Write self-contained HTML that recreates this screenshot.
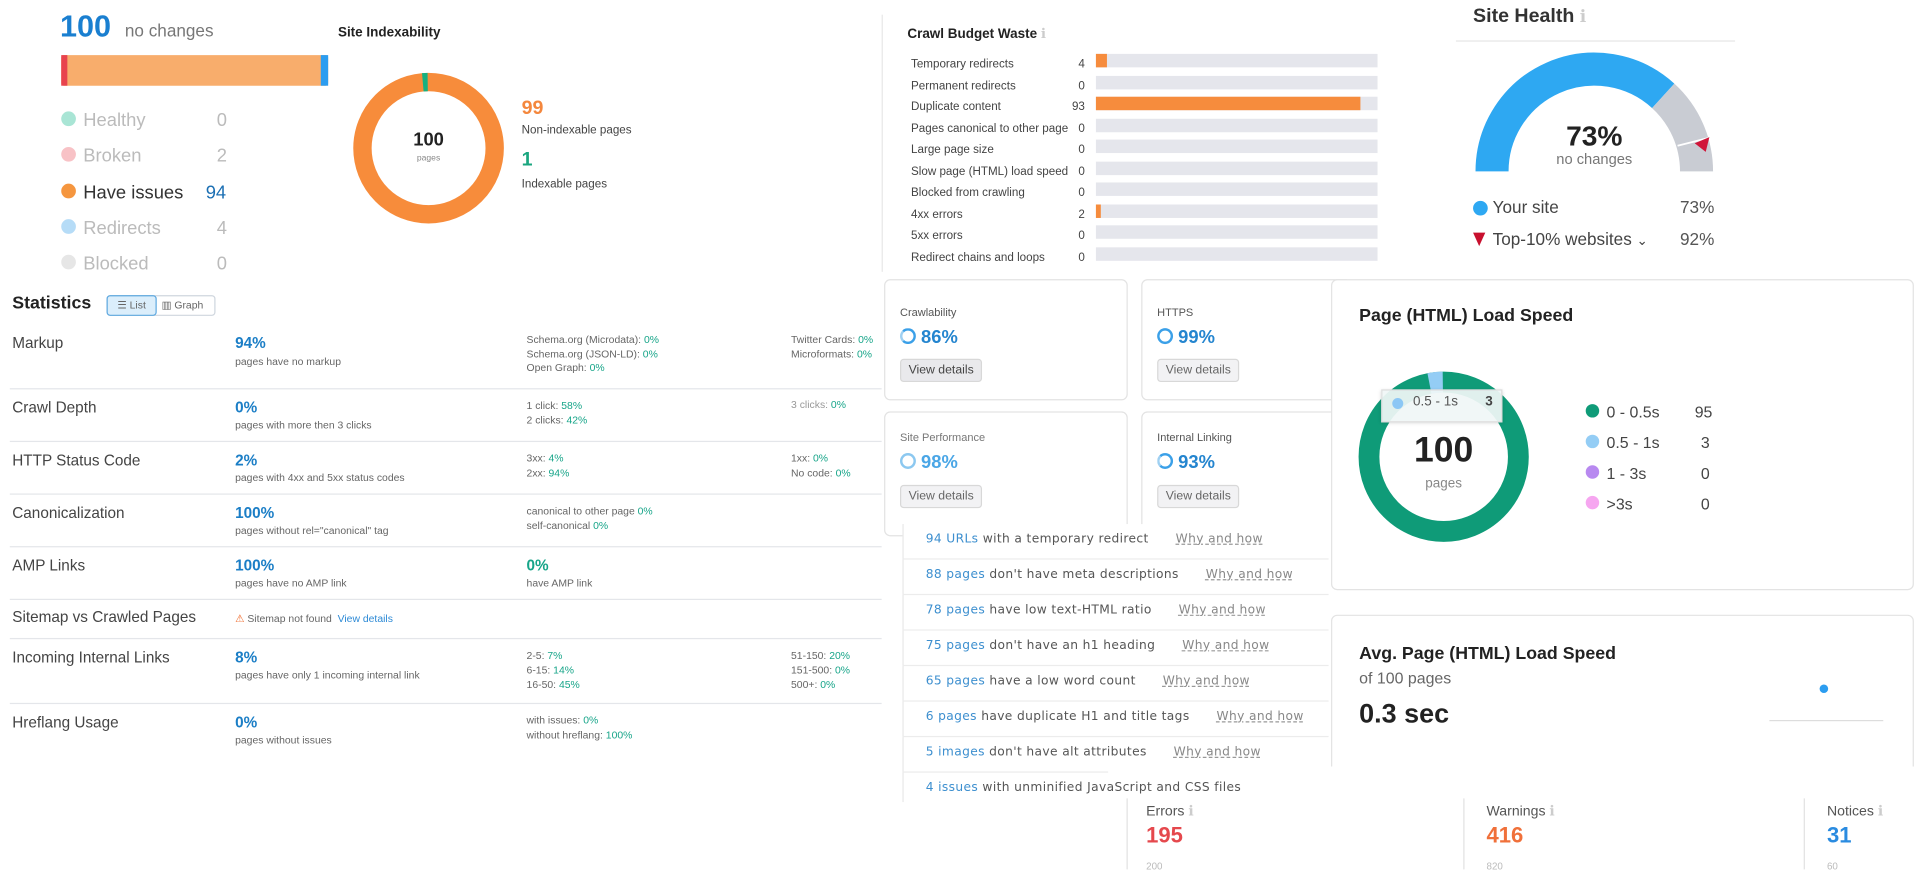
<!DOCTYPE html>
<html><head><meta charset="utf-8"><style>
html,body{margin:0;padding:0;background:#fff;width:1920px;height:869px;overflow:hidden}
#w{position:absolute;left:0;top:0;width:1568px;height:710px;transform:scale(1.22449);transform-origin:0 0;font-family:"Liberation Sans",sans-serif;color:#333}
.a{position:absolute;white-space:nowrap}
.b{color:#1a7fc9}.g{color:#17a589}
.row{position:absolute;left:8px;width:712px;border-top:1.5px solid #e4e6ea}
.lab{font-size:12.5px;color:#444}
.v{font-size:12.5px;font-weight:bold;color:#1b7ec6}
.s{font-size:8.5px;color:#666}
.card{position:absolute;border:1px solid #e3e3e3;border-radius:5px;background:#fff}
.btn{position:absolute;border:1px solid #d8d8d8;background:#f2f2f4;border-radius:3px;font-size:10px;color:#666;padding:3px 6px}
.iss{position:absolute;left:737px;width:348px;height:29px;border-bottom:1px solid #ececec;font-family:"DejaVu Sans",sans-serif;font-size:10px;letter-spacing:0.3px;color:#555;overflow:hidden;white-space:nowrap}
.iss span.n{color:#3d8fcf}
.iss u{color:#888;text-decoration:underline dashed #999;margin-left:22px}
.cb{font-size:9.5px;color:#444}
.bar{position:absolute;left:895px;width:230px;height:11px;background:#e5e6ec}
</style></head><body><div id="w">

<div class="a" style="left:49px;top:8px;font-size:25px;font-weight:bold;color:#1a7fd0">100</div>
<div class="a" style="left:102px;top:17px;font-size:14px;color:#777">no changes</div>
<div class="a" style="left:50px;top:45px;width:218px;height:25px;background:#f8ad6c;border-radius:2px"></div>
<div class="a" style="left:50px;top:45px;width:5px;height:25px;background:#e8434e"></div>
<div class="a" style="left:262px;top:45px;width:6px;height:25px;background:#2c9df0"></div>
<div class="a" style="left:50px;top:84px;font-size:15px;color:#bbb;line-height:29.3px">
<div><span style="display:inline-block;width:12px;height:12px;border-radius:50%;background:#a9e5d5;margin-right:6px"></span>Healthy<span style="position:absolute;left:127px">0</span></div>
<div><span style="display:inline-block;width:12px;height:12px;border-radius:50%;background:#f8c2c6;margin-right:6px"></span>Broken<span style="position:absolute;left:127px">2</span></div>
<div style="color:#333"><span style="display:inline-block;width:12px;height:12px;border-radius:50%;background:#f5963f;margin-right:6px"></span>Have issues<span style="position:absolute;left:118px;color:#1b6fb3">94</span></div>
<div><span style="display:inline-block;width:12px;height:12px;border-radius:50%;background:#b6dcf7;margin-right:6px"></span>Redirects<span style="position:absolute;left:127px">4</span></div>
<div><span style="display:inline-block;width:12px;height:12px;border-radius:50%;background:#e6e6e6;margin-right:6px"></span>Blocked<span style="position:absolute;left:127px">0</span></div>
</div>

<div class="a" style="left:276px;top:21px;font-size:11px;font-weight:bold;color:#222">Site Indexability</div>
<svg class="a" style="left:0;top:0" width="700" height="230">
<circle cx="350" cy="121" r="54" fill="none" stroke="#f78c3b" stroke-width="15"/>
<circle cx="350" cy="121" r="54" fill="none" stroke="#16b07f" stroke-width="15" stroke-dasharray="4 400" transform="rotate(-95 350 121)"/>
</svg>
<div class="a" style="left:320px;top:106px;width:60px;text-align:center;font-size:15px;font-weight:bold;color:#222">100</div>
<div class="a" style="left:320px;top:126px;width:60px;text-align:center;font-size:7px;color:#888">pages</div>
<div class="a" style="left:426px;top:80px;font-size:16px;font-weight:bold;color:#f4873d">99</div>
<div class="a" style="left:426px;top:101px;font-size:9.5px;color:#444">Non-indexable pages</div>
<div class="a" style="left:426px;top:122px;font-size:16px;font-weight:bold;color:#1aa67f">1</div>
<div class="a" style="left:426px;top:145px;font-size:9.5px;color:#444">Indexable pages</div>

<div class="a" style="left:720px;top:12px;width:1px;height:210px;background:#e8e8e8"></div>
<div class="a" style="left:741px;top:21px;font-size:11px;font-weight:bold;color:#222">Crawl Budget Waste <span style="color:#ccc;font-weight:normal">ℹ</span></div>
<div class="a cb" style="left:744px;top:44px;line-height:17.5px">Temporary redirects<br>Permanent redirects<br>Duplicate content<br>Pages canonical to other page<br>Large page size<br>Slow page (HTML) load speed<br>Blocked from crawling<br>4xx errors<br>5xx errors<br>Redirect chains and loops</div>
<div class="a cb" style="left:866px;width:20px;text-align:right;top:44px;line-height:17.5px">4<br>0<br>93<br>0<br>0<br>0<br>0<br>2<br>0<br>0</div>
<div class="bar" style="top:44px"><div style="width:9px;height:11px;background:#f68c3d"></div></div>
<div class="bar" style="top:62px"></div>
<div class="bar" style="top:79px"><div style="width:216px;height:11px;background:#f68c3d"></div></div>
<div class="bar" style="top:97px"></div>
<div class="bar" style="top:114px"></div>
<div class="bar" style="top:132px"></div>
<div class="bar" style="top:149px"></div>
<div class="bar" style="top:167px"><div style="width:4px;height:11px;background:#f68c3d"></div></div>
<div class="bar" style="top:184px"></div>
<div class="bar" style="top:202px"></div>

<div class="a" style="left:1203px;top:5px;font-size:16px;font-weight:bold;color:#333">Site Health <span style="color:#ccc;font-weight:normal;font-size:14px">ℹ</span></div>
<div class="a" style="left:1189px;top:33px;width:228px;height:1px;background:#e6e6e6"></div>
<svg class="a" style="left:1200px;top:40px" width="210" height="110">
<path d="M18.5,100 A83.5,83.5 0 0 1 158.3,38.3" fill="none" stroke="#2ea8f2" stroke-width="27"/>
<path d="M158.3,38.3 A83.5,83.5 0 0 1 185.5,100" fill="none" stroke="#c9ccd3" stroke-width="27"/>
<line x1="170" y1="79" x2="198" y2="72" stroke="#fff" stroke-width="1.5"/>
<polygon points="196,72 184,77 193,84" fill="#d0163a"/>
</svg>
<div class="a" style="left:1262px;top:98px;width:80px;text-align:center;font-size:23px;font-weight:bold;color:#222">73%</div>
<div class="a" style="left:1262px;top:123px;width:80px;text-align:center;font-size:12px;color:#777">no changes</div>
<div class="a" style="left:1203px;top:164px;width:12px;height:12px;border-radius:50%;background:#2ea8f2"></div>
<div class="a" style="left:1219px;top:161px;font-size:14px;color:#444">Your site</div>
<div class="a" style="left:1372px;top:161px;font-size:14px;color:#555">73%</div>
<div class="a" style="left:1203px;top:190px;width:0;height:0;border-left:5px solid transparent;border-right:5px solid transparent;border-top:11px solid #c8102e"></div>
<div class="a" style="left:1219px;top:187px;font-size:14px;color:#444">Top-10% websites <span style="font-size:11px">⌄</span></div>
<div class="a" style="left:1372px;top:187px;font-size:14px;color:#555">92%</div>

<div class="a" style="left:10px;top:240px;font-size:14.5px;font-weight:bold;color:#222">Statistics</div>
<div class="a" style="left:87px;top:241px;width:87px;height:15px;border:1px solid #cfd6de;border-radius:3px;font-size:8.5px;color:#666">
<span style="position:absolute;left:0;top:0;width:39px;height:15px;background:#dbeefb;border:1px solid #5fa9e0;border-radius:3px;margin:-1px;text-align:center;line-height:15px">☰ List</span>
<span style="position:absolute;left:44px;top:0;line-height:15px">▥ Graph</span></div>

<div class="a lab" style="left:10px;top:273px">Markup</div>
<div class="a v" style="left:192px;top:273px">94%</div>
<div class="a s" style="left:192px;top:290px">pages have no markup</div>
<div class="a s" style="left:430px;top:272px;line-height:11.5px">Schema.org (Microdata): <span class="g">0%</span><br>Schema.org (JSON-LD): <span class="g">0%</span><br>Open Graph: <span class="g">0%</span></div>
<div class="a s" style="left:646px;top:272px;line-height:11.5px">Twitter Cards: <span class="g">0%</span><br>Microformats: <span class="g">0%</span></div>

<div class="row" style="top:317px"></div>
<div class="a lab" style="left:10px;top:326px">Crawl Depth</div>
<div class="a v" style="left:192px;top:326px">0%</div>
<div class="a s" style="left:192px;top:342px">pages with more then 3 clicks</div>
<div class="a s" style="left:430px;top:325px;line-height:12px">1 click: <span class="g">58%</span><br>2 clicks: <span class="g">42%</span></div>
<div class="a s" style="left:646px;top:325px;color:#999">3 clicks: <span class="g">0%</span></div>

<div class="row" style="top:360px"></div>
<div class="a lab" style="left:10px;top:369px">HTTP Status Code</div>
<div class="a v" style="left:192px;top:369px">2%</div>
<div class="a s" style="left:192px;top:385px">pages with 4xx and 5xx status codes</div>
<div class="a s" style="left:430px;top:368px;line-height:12px">3xx: <span class="g">4%</span><br>2xx: <span class="g">94%</span></div>
<div class="a s" style="left:646px;top:368px;line-height:12px">1xx: <span class="g">0%</span><br>No code: <span class="g">0%</span></div>

<div class="row" style="top:403px"></div>
<div class="a lab" style="left:10px;top:412px">Canonicalization</div>
<div class="a v" style="left:192px;top:412px">100%</div>
<div class="a s" style="left:192px;top:428px">pages without rel="canonical" tag</div>
<div class="a s" style="left:430px;top:411px;line-height:12px">canonical to other page <span class="g">0%</span><br>self-canonical <span class="g">0%</span></div>

<div class="row" style="top:446px"></div>
<div class="a lab" style="left:10px;top:455px">AMP Links</div>
<div class="a v" style="left:192px;top:455px">100%</div>
<div class="a s" style="left:192px;top:471px">pages have no AMP link</div>
<div class="a v" style="left:430px;top:455px;color:#17a589">0%</div>
<div class="a s" style="left:430px;top:471px">have AMP link</div>

<div class="row" style="top:489px"></div>
<div class="a lab" style="left:10px;top:497px">Sitemap vs Crawled Pages</div>
<div class="a s" style="left:192px;top:500px"><span style="color:#f06a2b">⚠</span> Sitemap not found&nbsp;&nbsp;<span style="color:#2d8ad6">View details</span></div>

<div class="row" style="top:521px"></div>
<div class="a lab" style="left:10px;top:530px">Incoming Internal Links</div>
<div class="a v" style="left:192px;top:530px">8%</div>
<div class="a s" style="left:192px;top:546px">pages have only 1 incoming internal link</div>
<div class="a s" style="left:430px;top:529px;line-height:12px">2-5: <span class="g">7%</span><br>6-15: <span class="g">14%</span><br>16-50: <span class="g">45%</span></div>
<div class="a s" style="left:646px;top:529px;line-height:12px">51-150: <span class="g">20%</span><br>151-500: <span class="g">0%</span><br>500+: <span class="g">0%</span></div>

<div class="row" style="top:574px"></div>
<div class="a lab" style="left:10px;top:583px">Hreflang Usage</div>
<div class="a v" style="left:192px;top:583px">0%</div>
<div class="a s" style="left:192px;top:599px">pages without issues</div>
<div class="a s" style="left:430px;top:582px;line-height:12px">with issues: <span class="g">0%</span><br>without hreflang: <span class="g">100%</span></div>

<div class="card" style="left:722px;top:228px;width:197px;height:97px"></div>
<div class="card" style="left:932px;top:228px;width:170px;height:97px"></div>
<div class="card" style="left:722px;top:336px;width:197px;height:100px"></div>
<div class="card" style="left:932px;top:336px;width:170px;height:100px"></div>
<div class="a" style="left:735px;top:250px;font-size:9px;color:#555">Crawlability</div>
<div class="a" style="left:945px;top:250px;font-size:9px;color:#555">HTTPS</div>
<div class="a" style="left:735px;top:352px;font-size:9px;color:#777">Site Performance</div>
<div class="a" style="left:945px;top:352px;font-size:9px;color:#555">Internal Linking</div>
<div class="a" style="left:735px;top:267px;font-size:15px;font-weight:bold;color:#2485cf"><span style="display:inline-block;width:9px;height:9px;border:2.5px solid #3ba0e8;border-left-color:#9fd0f2;border-radius:50%;vertical-align:-1px"></span> 86%</div>
<div class="a" style="left:945px;top:267px;font-size:15px;font-weight:bold;color:#2485cf"><span style="display:inline-block;width:9px;height:9px;border:2.5px solid #3ba0e8;border-radius:50%;vertical-align:-1px"></span> 99%</div>
<div class="a" style="left:735px;top:369px;font-size:15px;font-weight:bold;color:#4aa6e6"><span style="display:inline-block;width:9px;height:9px;border:2.5px solid #8cc8f0;border-radius:50%;vertical-align:-1px"></span> 98%</div>
<div class="a" style="left:945px;top:369px;font-size:15px;font-weight:bold;color:#2485cf"><span style="display:inline-block;width:9px;height:9px;border:2.5px solid #3ba0e8;border-left-color:#9fd0f2;border-radius:50%;vertical-align:-1px"></span> 93%</div>
<div class="btn" style="left:735px;top:293px;color:#444;background:#e9e9ec">View details</div>
<div class="btn" style="left:945px;top:293px">View details</div>
<div class="btn" style="left:735px;top:396px">View details</div>
<div class="btn" style="left:945px;top:396px">View details</div>

<div class="a" style="left:737px;top:428px;width:350px;height:227px;background:#fff;border-left:1px solid #e8e8e8"></div>
<div class="iss" style="top:428px;line-height:25px;padding-left:19px;box-sizing:border-box"><span class="n">94 URLs</span> with a temporary redirect<u>Why and how</u></div>
<div class="iss" style="top:457px;line-height:25px;padding-left:19px;box-sizing:border-box"><span class="n">88 pages</span> don't have meta descriptions<u>Why and how</u></div>
<div class="iss" style="top:486px;line-height:25px;padding-left:19px;box-sizing:border-box"><span class="n">78 pages</span> have low text-HTML ratio<u>Why and how</u></div>
<div class="iss" style="top:515px;line-height:25px;padding-left:19px;box-sizing:border-box"><span class="n">75 pages</span> don't have an h1 heading<u>Why and how</u></div>
<div class="iss" style="top:544px;line-height:25px;padding-left:19px;box-sizing:border-box"><span class="n">65 pages</span> have a low word count<u>Why and how</u></div>
<div class="iss" style="top:573px;line-height:25px;padding-left:19px;box-sizing:border-box"><span class="n">6 pages</span> have duplicate H1 and title tags<u>Why and how</u></div>
<div class="iss" style="top:602px;line-height:25px;padding-left:19px;box-sizing:border-box"><span class="n">5 images</span> don't have alt attributes<u>Why and how</u></div>

<div class="card" style="left:1087px;top:228px;width:474px;height:252px"></div>
<div class="a" style="left:1110px;top:250px;font-size:14.5px;font-weight:bold;color:#222">Page (HTML) Load Speed</div>
<svg class="a" style="left:1100px;top:290px" width="160" height="170">
<circle cx="79" cy="83" r="61" fill="none" stroke="#0f9b78" stroke-width="17"/>
<circle cx="79" cy="83" r="61" fill="none" stroke="#94cdf5" stroke-width="17" stroke-dasharray="11 400" transform="rotate(-101 79 83)"/>
</svg>
<div class="a" style="left:1128px;top:318px;width:97px;height:25px;background:rgba(240,246,246,.93);border:1px solid #ddd;box-shadow:0 1px 3px rgba(0,0,0,.15)"></div>
<div class="a" style="left:1137px;top:325px;width:9px;height:9px;border-radius:50%;background:#8cc7f5"></div>
<div class="a" style="left:1154px;top:322px;font-size:11px;color:#555">0.5 - 1s</div>
<div class="a" style="left:1213px;top:322px;font-size:11px;font-weight:bold;color:#444">3</div>
<div class="a" style="left:1139px;top:352px;width:80px;text-align:center;font-size:29px;font-weight:bold;color:#222">100</div>
<div class="a" style="left:1139px;top:389px;width:80px;text-align:center;font-size:11px;color:#888">pages</div>
<div class="a" style="left:1295px;top:324px;font-size:13px;color:#444;line-height:25px">
<div><span style="display:inline-block;width:11px;height:11px;border-radius:50%;background:#0f9b78;margin-right:6px"></span>0 - 0.5s<span style="position:absolute;left:89px">95</span></div>
<div><span style="display:inline-block;width:11px;height:11px;border-radius:50%;background:#94cdf5;margin-right:6px"></span>0.5 - 1s<span style="position:absolute;left:94px">3</span></div>
<div><span style="display:inline-block;width:11px;height:11px;border-radius:50%;background:#b889f0;margin-right:6px"></span>1 - 3s<span style="position:absolute;left:94px">0</span></div>
<div><span style="display:inline-block;width:11px;height:11px;border-radius:50%;background:#f6a6f0;margin-right:6px"></span>&gt;3s<span style="position:absolute;left:94px">0</span></div>
</div>

<div class="card" style="left:1087px;top:502px;width:474px;height:160px"></div>
<div class="a" style="left:1110px;top:526px;font-size:14.5px;font-weight:bold;color:#222">Avg. Page (HTML) Load Speed</div>
<div class="a" style="left:1110px;top:546px;font-size:13px;color:#666">of 100 pages</div>
<div class="a" style="left:1110px;top:570px;font-size:22px;font-weight:bold;color:#222">0.3 sec</div>
<div class="a" style="left:1486px;top:559px;width:7px;height:7px;border-radius:50%;background:#2c9df0"></div>
<div class="a" style="left:1445px;top:588px;width:93px;height:1px;background:#ddd"></div>

<div class="a" style="left:905px;top:626px;width:663px;height:84px;background:#fff"></div>
<div class="iss" style="top:631px;line-height:25px;padding-left:19px;box-sizing:border-box;border-bottom:none;width:348px;overflow:visible"><span class="n">4 issues</span> with unminified JavaScript and CSS files</div>
<div class="a" style="left:920px;top:652px;width:1px;height:58px;background:#e2e2e2"></div>
<div class="a" style="left:1195px;top:652px;width:1px;height:58px;background:#e2e2e2"></div>
<div class="a" style="left:1473px;top:652px;width:1px;height:58px;background:#e2e2e2"></div>
<div class="a" style="left:936px;top:655px;font-size:11.5px;color:#555">Errors <span style="color:#ccc">ℹ</span></div>
<div class="a" style="left:936px;top:672px;font-size:18px;font-weight:bold;color:#e5484d">195</div>
<div class="a" style="left:1214px;top:655px;font-size:11.5px;color:#555">Warnings <span style="color:#ccc">ℹ</span></div>
<div class="a" style="left:1214px;top:672px;font-size:18px;font-weight:bold;color:#f0703a">416</div>
<div class="a" style="left:1492px;top:655px;font-size:11.5px;color:#555">Notices <span style="color:#ccc">ℹ</span></div>
<div class="a" style="left:1492px;top:672px;font-size:18px;font-weight:bold;color:#2a8be0">31</div>
<div class="a" style="left:936px;top:703px;font-size:8px;color:#bbb">200</div>
<div class="a" style="left:1214px;top:703px;font-size:8px;color:#bbb">820</div>
<div class="a" style="left:1492px;top:703px;font-size:8px;color:#bbb">60</div>
</div></body></html>
